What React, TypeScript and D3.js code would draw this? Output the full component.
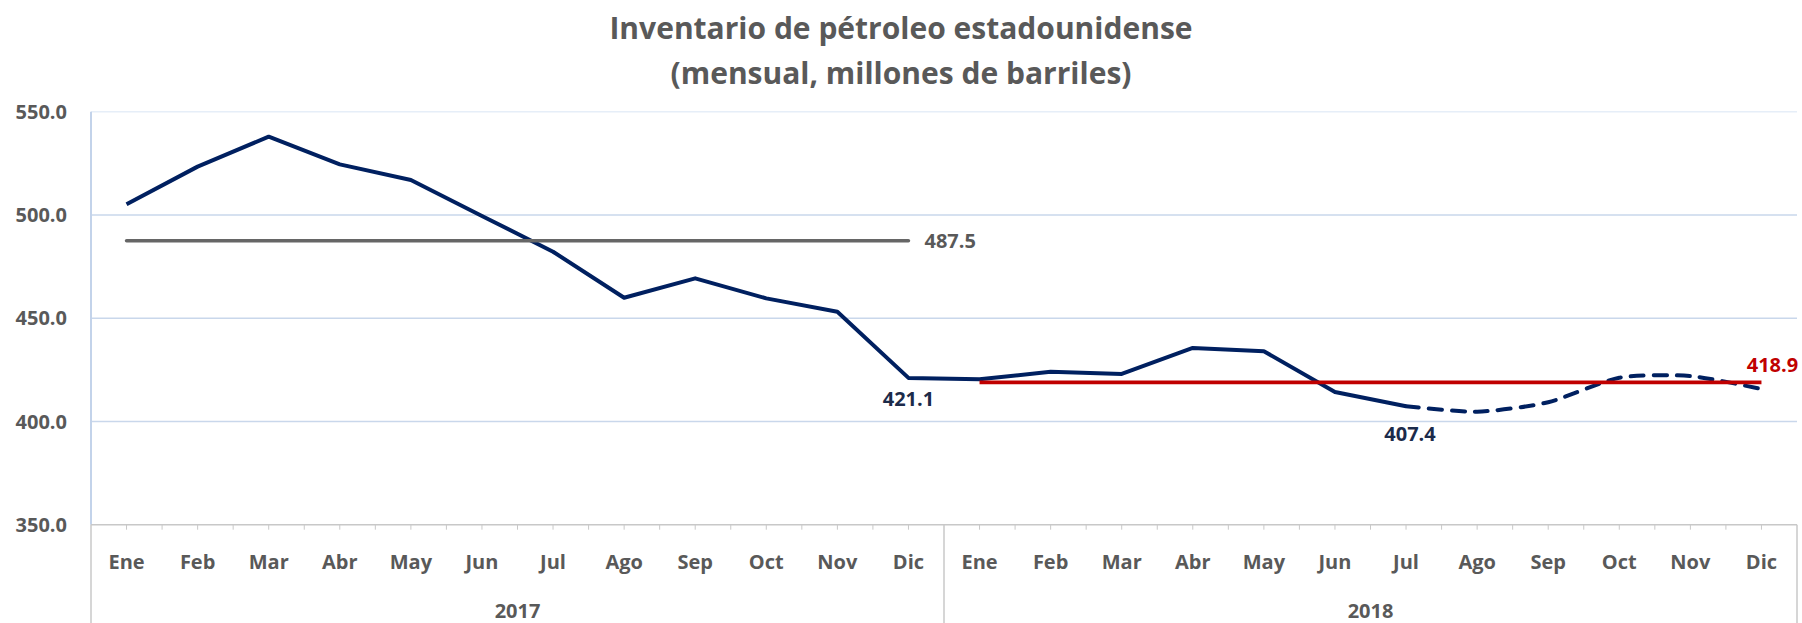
import React from 'react';
import * as d3 from 'd3';

// chart data
const months = ['Ene', 'Feb', 'Mar', 'Abr', 'May', 'Jun', 'Jul', 'Ago', 'Sep', 'Oct', 'Nov', 'Dic'];
const years = ['2017', '2018'];
const inventory2017 = [505.2, 523.4, 537.9, 524.5, 516.9, 499.5, 482.2, 459.9, 469.3, 459.6, 453.1, 421.1];
const inventory2018 = [420.4, 424.1, 423.0, 435.6, 434.0, 414.3, 407.4, 404.7, 409.3, 421.2, 422.0, 415.7];
const average2017 = 487.5;
const average2018 = 418.9;
const yTicks = [350, 400, 450, 500, 550];
// from this index on (2018) the series is drawn dashed
const forecastStart = 6;
const titleLines = ['Inventario de pétroleo estadounidense', '(mensual, millones de barriles)'];

const W = 1802;
const H = 623;
const FONT = "'Open Sans', Lato, sans-serif";
const GREY = '#595959';
const NAVY = '#002060';
const RED = '#c00000';

const App = () => {
  const keys = years.flatMap(yr => months.map(m => `${yr}-${m}`));
  const x = d3.scaleBand().domain(keys).range([91, 1797]).padding(0);
  const bw = x.bandwidth();
  const cx = (k: string) => (x(k) as number) + bw / 2;
  const y = d3.scaleLinear().domain([350, 550]).range([524.7, 111.7]);

  const all = [...inventory2017, ...inventory2018].map((v, i) => ({ k: keys[i], v }));
  const cut = 12 + forecastStart;
  const solid = all.slice(0, cut + 1);
  const dashed = all.slice(cut);

  const line = d3.line<{ k: string; v: number }>().x(d => cx(d.k)).y(d => y(d.v));
  const smooth = d3.line<{ k: string; v: number }>()
    .x(d => cx(d.k)).y(d => y(d.v))
    .curve(d3.curveCardinal.tension(0.3));

  const fmt = d3.format('.1f');
  const k17 = keys.slice(0, 12);
  const k18 = keys.slice(12);
  const low17 = all[11];
  const low18 = all[cut];

  // little ticks every half category, except where the long separators are
  const ticks = d3.range(1, 48).filter(i => i !== 24).map(i => 91 + (i * bw) / 2);

  return (
    <svg width={W} height={H} style={{ position: 'absolute', left: 0, top: 0, background: '#fff' }}
      fontFamily={FONT} fontWeight="bold">
      {titleLines.map((t, i) => (
        <text key={t} x={901} y={38.5 + i * 45} textAnchor="middle" fontSize={30} fill={GREY}>{t}</text>
      ))}

      {/* grid */}
      {yTicks.filter(t => t > 350).map(t => (
        <line key={t} x1={91} x2={1797} y1={y(t)} y2={y(t)}
          stroke={t === 550 ? '#e6eef8' : '#c9d7eb'} strokeWidth={1.6} />
      ))}
      {yTicks.map(t => (
        <text key={t} x={67} y={y(t)} dy="0.36em" textAnchor="end" fontSize={20} fill={GREY}>{fmt(t)}</text>
      ))}
      <line x1={91} x2={91} y1={y(550)} y2={y(350)} stroke="#c3d3ea" strokeWidth={2} />

      {/* category axis */}
      <line x1={91} x2={1797} y1={y(350)} y2={y(350)} stroke="#c8c8c8" strokeWidth={1.5} />
      {ticks.map(t => (
        <line key={t} x1={t} x2={t} y1={y(350)} y2={y(350) + 5} stroke="#c8c8c8" strokeWidth={1} />
      ))}
      {[91, x(k18[0]) as number, 1797].map(v => (
        <line key={v} x1={v} x2={v} y1={y(350)} y2={H} stroke="#c8c8c8" strokeWidth={1.5} />
      ))}
      {keys.map((k, i) => (
        <text key={k} x={cx(k)} y={568.5} textAnchor="middle" fontSize={20} fill={GREY}>{months[i % 12]}</text>
      ))}
      {years.map((yr, i) => {
        const ks = i === 0 ? k17 : k18;
        const mid = ((x(ks[0]) as number) + (x(ks[11]) as number) + bw) / 2;
        return <text key={yr} x={mid} y={617.5} textAnchor="middle" fontSize={20} fill={GREY}>{yr}</text>;
      })}

      {/* series */}
      <path d={line(solid) ?? ''} fill="none" stroke={NAVY} strokeWidth={4} strokeLinejoin="round" />
      <path d={smooth(dashed) ?? ''} fill="none" stroke={NAVY} strokeWidth={4}
        strokeDasharray="13,10" strokeLinecap="round" />

      {/* averages */}
      <line x1={cx(k17[0])} x2={cx(k17[11])} y1={y(average2017)} y2={y(average2017)}
        stroke="#666666" strokeWidth={3.5} strokeLinecap="round" />
      <text x={cx(k17[11]) + 16} y={y(average2017)} dy="0.36em" fontSize={20} fill={GREY}>{fmt(average2017)}</text>
      <line x1={cx(k18[0])} x2={cx(k18[11])} y1={y(average2018)} y2={y(average2018)}
        stroke={RED} strokeWidth={3.8} />
      <text x={cx(k18[11]) + 11} y={y(average2018) - 10} textAnchor="middle" fontSize={20} fill={RED}>{fmt(average2018)}</text>

      {/* lows */}
      <text x={cx(low17.k)} y={y(low17.v) + 28.5} textAnchor="middle" fontSize={20} fill="#1c2b4a">{fmt(low17.v)}</text>
      <text x={cx(low18.k) + 4} y={y(low18.v) + 34.5} textAnchor="middle" fontSize={20} fill="#1c2b4a">{fmt(low18.v)}</text>
    </svg>
  );
};

export default App;
